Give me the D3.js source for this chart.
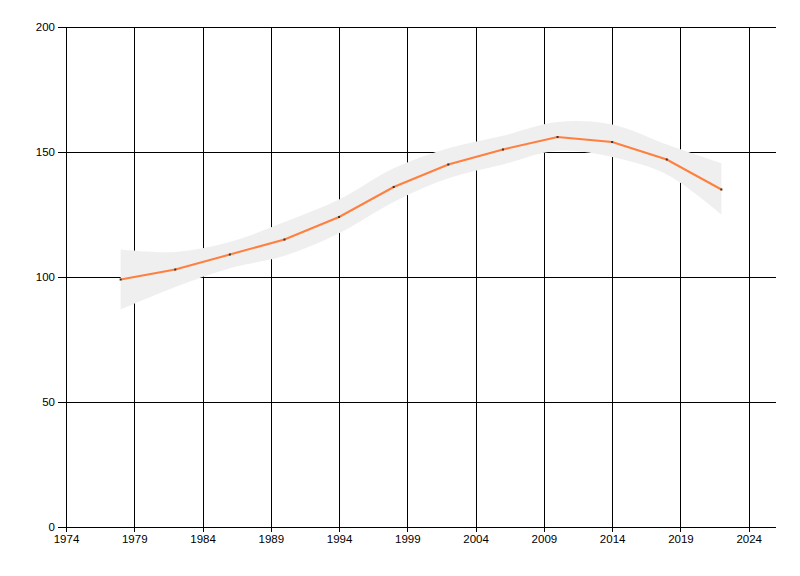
<!DOCTYPE html>
<html>
<head>
<meta charset="utf-8">
<script src="https://cdn.jsdelivr.net/npm/d3@7"></script>
<style>
  body { margin: 0; background: #fff; }
  .chart text { font-family: "Liberation Sans", Arial, sans-serif; font-size: 11.5px; fill: #000; }
</style>
</head>
<body>
<div class="chart"></div>
<script>
var years = [1978, 1982, 1986, 1990, 1994, 1998, 2002, 2006, 2010, 2014, 2018, 2022];
var values = [99, 103, 109, 115, 124, 136, 145, 151, 156, 154, 147, 135];
var upperBand = [111, 110, 114, 122, 131, 143.5, 151.5, 156.5, 162, 161, 153, 145.5];
var lowerBand = [87, 96, 103.5, 108.5, 117.5, 130, 139.5, 145, 150.5, 148, 141, 125];
var xTicks = [1974, 1979, 1984, 1989, 1994, 1999, 2004, 2009, 2014, 2019, 2024];
var yTicks = [0, 50, 100, 150, 200];

var w = 800, h = 576;
var plotLeft = 66, plotTop = 27, plotRight = 776, plotBottom = 527;

var x_scale = d3.scaleLinear().domain([1974, 2026]).range([plotLeft, plotRight]);
var y_scale = d3.scaleLinear().domain([0, 200]).range([plotBottom, plotTop]);

var svg = d3.select(".chart").append("svg")
            .attr("width", w)
            .attr("height", h);

var data = years.map(function(y, i) {
  return {x: y, y: values[i], hi: upperBand[i], lo: lowerBand[i]};
});

// grid
var grid = svg.append("g").attr("shape-rendering", "crispEdges");
grid.selectAll(".vgrid").data(xTicks).enter().append("line")
    .attr("x1", function(d) { return Math.round(x_scale(d)) + 0.5; })
    .attr("x2", function(d) { return Math.round(x_scale(d)) + 0.5; })
    .attr("y1", plotTop).attr("y2", plotBottom)
    .attr("stroke", "#000");
grid.selectAll(".hgrid").data(yTicks).enter().append("line")
    .attr("y1", function(d) { return Math.round(y_scale(d)) + 0.5; })
    .attr("y2", function(d) { return Math.round(y_scale(d)) + 0.5; })
    .attr("x1", plotLeft).attr("x2", plotRight)
    .attr("stroke", "#000");

// confidence band
var area = d3.area()
  .x(function(d) { return x_scale(d.x); })
  .y0(function(d) { return y_scale(d.lo); })
  .y1(function(d) { return y_scale(d.hi); })
  .curve(d3.curveCatmullRom);

svg.append("path")
   .attr("d", area(data))
   .attr("fill", "#efefef");

// line
var line = d3.line()
  .x(function(d) { return x_scale(d.x); })
  .y(function(d) { return y_scale(d.y); });

svg.append("path")
   .attr("d", line(data))
   .attr("fill", "none")
   .attr("stroke", "#ff7f3f")
   .attr("stroke-width", 2);

svg.selectAll(".pt").data(data).enter().append("rect")
   .attr("x", function(d) { return x_scale(d.x) - 1; })
   .attr("y", function(d) { return y_scale(d.y) - 1; })
   .attr("width", 2).attr("height", 2)
   .attr("fill", "#333");

// axes
var axisBot = d3.axisBottom(x_scale).tickValues(xTicks).tickFormat(d3.format("d"))
                .tickSizeInner(5).tickSizeOuter(0).tickPadding(3);
var axisLeft = d3.axisLeft(y_scale).tickValues(yTicks)
                .tickSizeInner(8).tickSizeOuter(0).tickPadding(3);

var xAxis = svg.append("g")
   .attr("transform", "translate(0," + plotBottom + ")")
   .attr("shape-rendering", "crispEdges")
   .call(axisBot);
xAxis.select(".domain").attr("d", "M" + plotLeft + ",0.5H" + plotRight);

var yAxis = svg.append("g")
   .attr("transform", "translate(" + plotLeft + ",0)")
   .attr("shape-rendering", "crispEdges")
   .call(axisLeft);

svg.selectAll(".tick line").attr("stroke", "#000");
svg.selectAll(".domain").attr("stroke", "#000");
svg.selectAll(".tick text").attr("font-family", null).attr("font-size", null);
</script>
</body>
</html>
